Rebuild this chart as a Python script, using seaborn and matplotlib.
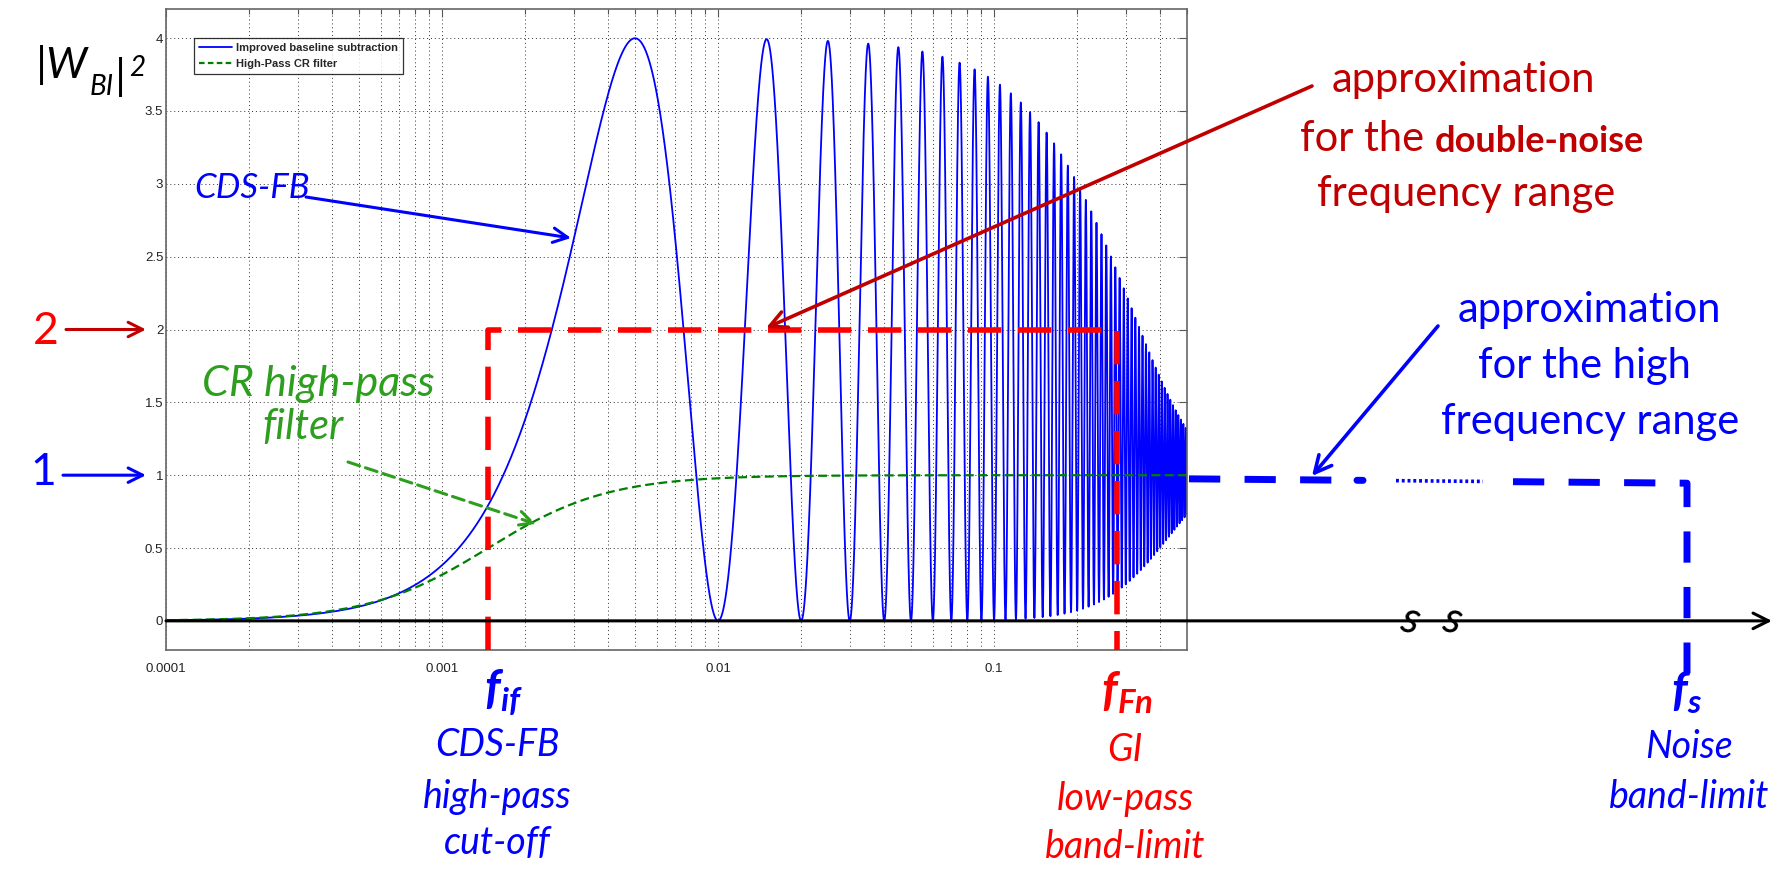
import numpy as np
import matplotlib
matplotlib.use("Agg")
import matplotlib.pyplot as plt
import matplotlib.transforms as mtransforms
import seaborn as sns

# ---------------- data ----------------
freq_min, freq_max = 1e-4, 0.5      # normalised frequency range of the axis
null_spacing = 0.01                 # CDS-FB response nulls every 0.01
gi_sigma = 0.36                     # width of the Gaussian GI low-pass
cr_corner = 0.00147                 # corner of the CR high-pass filter

f_if = 0.00147                      # CDS-FB high-pass cut-off
f_fn = 0.278                        # GI low-pass band-limit
level_double = 2.0                  # double-noise approximation level
level_single = 1.0                  # high-frequency approximation level
hf_level = [0.975, 0.945]           # drawn level of the high-frequency approximation

x_ticks = [1e-4, 1e-3, 1e-2, 1e-1]
x_tick_labels = ["0.0001", "0.001", "0.01", "0.1"]
y_ticks = [0, 0.5, 1, 1.5, 2, 2.5, 3, 3.5, 4]
y_tick_labels = ["0", "0.5", "1", "1.5", "2", "2.5", "3", "3.5", "4"]
y_limits = (-0.2, 4.2)

series_names = ["Improved baseline subtraction", "High-Pass CR filter"]

# ---------------- responses ----------------
freq = np.geomspace(freq_min, freq_max, 300000)
gi_gain = np.exp(-(freq / gi_sigma) ** 2)
w_bi = 1 + gi_gain ** 2 - 2 * gi_gain * np.cos(2 * np.pi * freq / null_spacing)
cr_hp = freq ** 2 / (freq ** 2 + cr_corner ** 2)

# ---------------- style ----------------
sns.set_theme(style="white")
plt.rcParams["font.family"] = ["Lato", "DejaVu Sans"]
plt.rcParams["mathtext.fontset"] = "custom"
plt.rcParams["mathtext.rm"] = "Lato:style=italic"
plt.rcParams["mathtext.it"] = "Lato:style=italic"
plt.rcParams["mathtext.bf"] = "Lato:style=italic:weight=bold"

W, H = 1789, 875
fig = plt.figure(figsize=(W / 100, H / 100), dpi=100)
fig.patch.set_facecolor("white")

# axes box in pixels (left, top, right, bottom)
L, T, R, B = 166, 9, 1187, 650
ax = fig.add_axes([L / W, 1 - B / H, (R - L) / W, (B - T) / H])
ax.set_facecolor("white")


def fig_xy(px, py):
    return px / W, 1 - py / H


def ax_x(px):
    return (px - L) / (R - L)


BLUE = "#0000ff"
RED = "#ff0000"
DARKRED = "#c00000"
GREEN = "#2e9e1e"

sns.lineplot(x=freq, y=w_bi, ax=ax, color="#0000ff", lw=1.3,
             estimator=None, sort=False, label=series_names[0])
sns.lineplot(x=freq, y=cr_hp, ax=ax, color="#008000", lw=1.6,
             estimator=None, sort=False, label=series_names[1])
ax.lines[1].set_linestyle((0, (4, 2)))

ax.set_xscale("log")
ax.set_xlim(freq_min, freq_max)
ax.set_ylim(*y_limits)
ax.set_xticks(x_ticks)
ax.set_xticklabels(x_tick_labels)
ax.set_yticks(y_ticks)
ax.set_yticklabels(y_tick_labels)
ax.xaxis.set_minor_locator(matplotlib.ticker.LogLocator(base=10, subs=np.arange(2, 10)))
ax.xaxis.set_minor_formatter(matplotlib.ticker.NullFormatter())
ax.set_xlabel("")
ax.set_ylabel("")

ax.tick_params(which="both", direction="in", top=True, right=True,
               color="#555555", labelcolor="#222222", labelsize=9.5, width=0.8)
ax.tick_params(which="major", length=6)
ax.tick_params(which="minor", length=3.5)
ax.tick_params(axis="x", which="major", pad=9)
ax.tick_params(axis="y", which="major", pad=2)
for lab in ax.get_xticklabels() + ax.get_yticklabels():
    lab.set_fontfamily("Liberation Sans")
for sp in ax.spines.values():
    sp.set_color("#666666")
    sp.set_linewidth(1.2)

ax.grid(which="both", axis="x", linestyle=(0, (1, 3)), color="#333333", lw=0.7)
ax.grid(which="major", axis="y", linestyle=(0, (1, 3)), color="#333333", lw=0.7)
ax.set_axisbelow(True)

leg = ax.legend(loc="upper left", bbox_to_anchor=(ax_x(194), 1 - (38 - T) / (B - T)),
                borderaxespad=0, frameon=True, fancybox=False, handlelength=3.0,
                handletextpad=0.3, labelspacing=0.55, borderpad=0.45,
                prop=dict(family="Liberation Sans", weight="bold", size=8))
leg.get_frame().set_edgecolor("black")
leg.get_frame().set_linewidth(0.9)
leg.get_lines()[1].set_linestyle((0, (2.5, 1.5)))
leg.get_lines()[1].set_linewidth(1.6)

trans = mtransforms.blended_transform_factory(ax.transAxes, ax.transData)

# zero line continued as a frequency axis with an arrow
ax.annotate("", xy=(ax_x(1772), 0), xytext=(0, 0), xycoords=trans, textcoords=trans,
            arrowprops=dict(arrowstyle="->", lw=2.2, color="black",
                            mutation_scale=28, shrinkA=0, shrinkB=0),
            annotation_clip=False, zorder=6)

# double-noise approximation (red dashed box)
ax.plot([f_if, f_if, f_fn, f_fn], [y_limits[0], level_double, level_double, y_limits[0]],
        color=RED, lw=4, linestyle=(0, (6, 3)), clip_on=False, zorder=5,
        solid_joinstyle="miter")

# high-frequency approximation (blue dashed line beyond the plot)
def hf_y(px):
    return hf_level[0] + (hf_level[1] - hf_level[0]) * (px - R) / (1687 - R)

dash_kw = dict(transform=trans, clip_on=False, color=BLUE, zorder=5)
ax.plot([ax_x(1189), ax_x(1345)], [hf_y(1189), hf_y(1345)], lw=5,
        linestyle=(0, (4.5, 3.5)), **dash_kw)
ax.plot([ax_x(1357), ax_x(1363)], [hf_y(1357), hf_y(1363)], lw=5, **dash_kw)
ax.plot([ax_x(1396), ax_x(1483)], [hf_y(1396), hf_y(1483)], lw=2.6,
        linestyle=(0, (0.8, 0.8)), **dash_kw)
ax.plot([ax_x(1513), ax_x(1680), ax_x(1687), ax_x(1687)],
        [hf_y(1513), hf_y(1680), hf_y(1687), -0.36], lw=5,
        linestyle=(0, (4.5, 3.5)), **dash_kw)

# break marks on the frequency axis
for bx in (1410, 1452):
    fig.text(*fig_xy(bx, 620), "s", color="black", fontsize=32, ha="center",
             va="center", style="italic", rotation=-15)


def chain(prev, text, **kw):
    """Place a text piece right after the previous one on the same line."""
    return fig.add_artist(matplotlib.text.Annotation(
        text, xy=(1, 0), xycoords=prev, va="bottom", ha="left",
        annotation_clip=False, **kw))


# ---------------- annotations ----------------
# |W_BI|^2 title built from italic pieces
t = fig.text(*fig_xy(36, 78), "|W", fontsize=31, style="italic", color="black",
             va="baseline", ha="left")
t = fig.add_artist(matplotlib.text.Annotation(
    "BI", xy=(1, 0), xycoords=t, xytext=(1, -7), textcoords="offset points",
    fontsize=20, style="italic", color="black", va="baseline", ha="left"))
t = fig.add_artist(matplotlib.text.Annotation(
    "|", xy=(1, 0), xycoords=t, xytext=(1, 7), textcoords="offset points",
    fontsize=31, style="italic", color="black", va="baseline", ha="left"))
fig.add_artist(matplotlib.text.Annotation(
    "2", xy=(1, 1), xycoords=t, xytext=(2, -14), textcoords="offset points",
    fontsize=20, style="italic", color="black", va="baseline", ha="left"))

fig.text(*fig_xy(46, 331), "2", fontsize=32, color=RED, ha="center", va="center")
ax.annotate("", xy=(ax_x(146), level_double), xytext=(ax_x(66), level_double),
            xycoords=trans, textcoords=trans, annotation_clip=False,
            arrowprops=dict(arrowstyle="->", lw=2.2, color=DARKRED, mutation_scale=26,
                            shrinkA=0, shrinkB=0))
fig.text(*fig_xy(43, 472), "1", fontsize=32, color=BLUE, ha="center", va="center")
ax.annotate("", xy=(ax_x(146), level_single), xytext=(ax_x(63), level_single),
            xycoords=trans, textcoords=trans, annotation_clip=False,
            arrowprops=dict(arrowstyle="->", lw=2.2, color=BLUE, mutation_scale=26,
                            shrinkA=0, shrinkB=0))

# CDS-FB label with arrow
fig.text(*fig_xy(252, 188), "CDS-FB", fontsize=25, color=BLUE, style="italic",
         ha="center", va="center")
fig.add_artist(matplotlib.patches.FancyArrowPatch(
    fig_xy(306, 197), fig_xy(571, 238), transform=fig.transFigure,
    arrowstyle="->", lw=2.2, color=BLUE, mutation_scale=26, shrinkA=0, shrinkB=0))

# CR high-pass label with dashed arrow
fig.text(*fig_xy(318, 384), "CR high-pass", fontsize=31, color=GREEN, style="italic",
         ha="center", va="center")
fig.text(*fig_xy(303, 427), "filter", fontsize=30, color=GREEN, style="italic",
         ha="center", va="center")
fig.add_artist(matplotlib.patches.FancyArrowPatch(
    fig_xy(348, 462), fig_xy(536, 524), transform=fig.transFigure,
    arrowstyle="->", lw=2.2, color=GREEN, mutation_scale=26, shrinkA=0, shrinkB=0,
    linestyle=(0, (4, 2))))

# double-noise label with arrow
fig.text(*fig_xy(1463, 80), "approximation", fontsize=30, color=DARKRED,
         ha="center", va="center")
t = fig.text(*fig_xy(1300, 158), "for the ", fontsize=30, color=DARKRED,
             ha="left", va="bottom")
chain(t, "double-noise", fontsize=26, color=DARKRED, weight="bold")
fig.text(*fig_xy(1466, 194), "frequency range", fontsize=30, color=DARKRED,
         ha="center", va="center")
fig.add_artist(matplotlib.patches.FancyArrowPatch(
    fig_xy(1312, 86), fig_xy(766, 328), transform=fig.transFigure,
    arrowstyle="->", lw=2.6, color=DARKRED, mutation_scale=30, shrinkA=0, shrinkB=0))

# high-frequency label with arrow
fig.text(*fig_xy(1589, 310), "approximation", fontsize=30, color=BLUE,
         ha="center", va="center")
fig.text(*fig_xy(1584, 366), "for the high", fontsize=30, color=BLUE,
         ha="center", va="center")
fig.text(*fig_xy(1590, 422), "frequency range", fontsize=30, color=BLUE,
         ha="center", va="center")
fig.add_artist(matplotlib.patches.FancyArrowPatch(
    fig_xy(1438, 326), fig_xy(1312, 476), transform=fig.transFigure,
    arrowstyle="->", lw=2.6, color=BLUE, mutation_scale=30, shrinkA=0, shrinkB=0))

# frequency markers below the axis
fig.text(*fig_xy(503, 693), r"$\mathbf{f_{if}}$", fontsize=34, color=BLUE,
         ha="center", va="center")
for txt, y in (("CDS-FB", 745), ("high-pass", 797), ("cut-off", 843)):
    fig.text(*fig_xy(497, y), txt, fontsize=27, color=BLUE, style="italic",
             ha="center", va="center")

fig.text(*fig_xy(1127, 693), r"$\mathbf{f_{Fn}}$", fontsize=34, color=RED,
         ha="center", va="center")
for txt, y in (("GI", 750), ("low-pass", 799), ("band-limit", 847)):
    fig.text(*fig_xy(1125, y), txt, fontsize=27, color=RED, style="italic",
             ha="center", va="center")

fig.text(*fig_xy(1687, 693), r"$\mathbf{f_{s}}$", fontsize=34, color=BLUE,
         ha="center", va="center")
for txt, y in (("Noise", 747), ("band-limit", 797)):
    fig.text(*fig_xy(1689, y), txt, fontsize=27, color=BLUE, style="italic",
             ha="center", va="center")

fig.savefig("out.png", dpi=100, facecolor="white")
